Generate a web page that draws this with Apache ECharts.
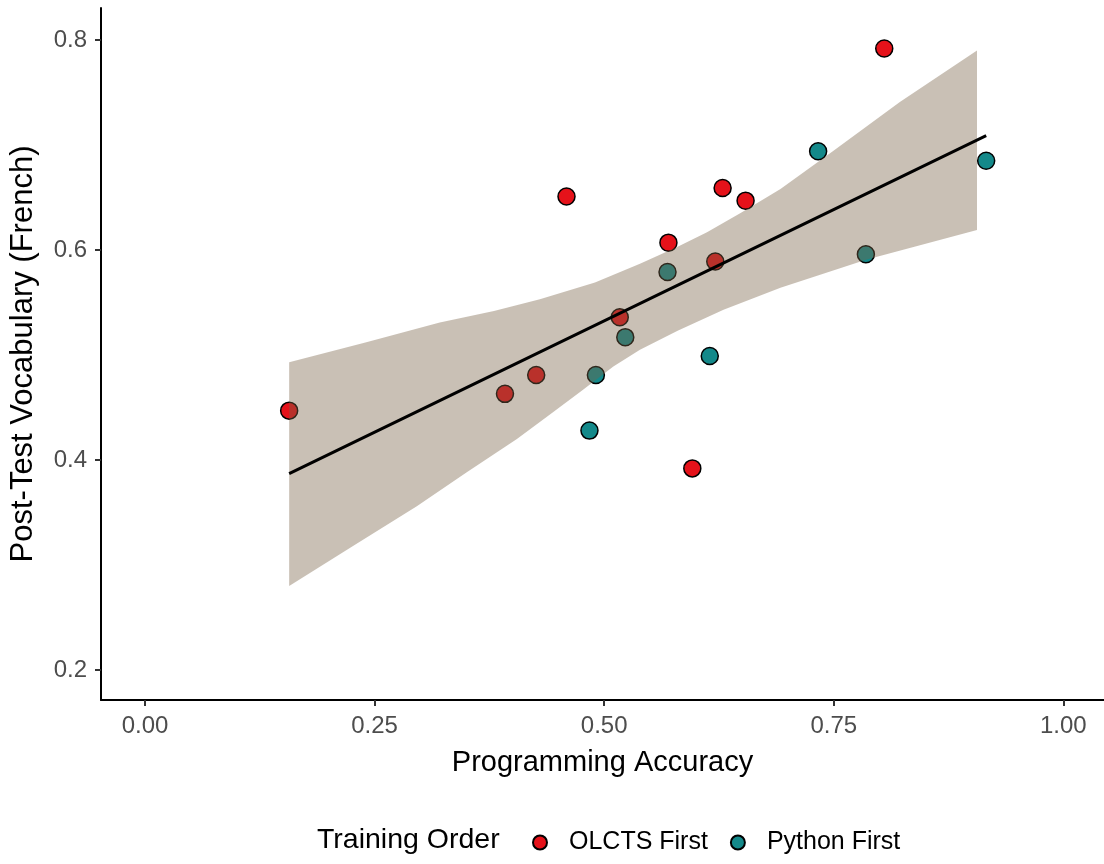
<!DOCTYPE html>
<html>
<head>
<meta charset="utf-8">
<script src="https://cdn.jsdelivr.net/npm/echarts@6/dist/echarts.min.js"></script>
<style>html,body{margin:0;padding:0;background:#fff}#c{width:1104px;height:864px}</style>
</head>
<body>
<div id="c"></div>
<script>
// ---- data ----
const olctsX = [0.157, 0.392, 0.426, 0.459, 0.517, 0.570, 0.629, 0.654, 0.621, 0.596, 0.805];
const olctsY = [0.447, 0.463, 0.481, 0.651, 0.536, 0.607, 0.659, 0.647, 0.589, 0.392, 0.792];
const pythonX = [0.484, 0.491, 0.523, 0.569, 0.615, 0.733, 0.785, 0.916];
const pythonY = [0.428, 0.481, 0.517, 0.579, 0.499, 0.694, 0.596, 0.685];
const fitX = [0.157, 0.916];
const fitY = [0.387, 0.709];
const bandUpperX = [0.157, 0.240, 0.321, 0.380, 0.430, 0.490, 0.539, 0.580, 0.612, 0.650, 0.692, 0.749, 0.822, 0.906];
const bandUpperY = [0.493, 0.512, 0.531, 0.542, 0.553, 0.569, 0.587, 0.603, 0.617, 0.636, 0.658, 0.694, 0.741, 0.790];
const bandLowerX = [0.157, 0.230, 0.296, 0.350, 0.405, 0.445, 0.477, 0.510, 0.539, 0.580, 0.630, 0.692, 0.786, 0.906];
const bandLowerY = [0.280, 0.320, 0.356, 0.388, 0.420, 0.446, 0.467, 0.489, 0.505, 0.523, 0.543, 0.564, 0.591, 0.619];
const xTicks = [0, 0.25, 0.5, 0.75, 1.0];
const xTickLabels = ['0.00', '0.25', '0.50', '0.75', '1.00'];
const yTicks = [0.2, 0.4, 0.6, 0.8];
const yTickLabels = ['0.2', '0.4', '0.6', '0.8'];
const seriesNames = ['OLCTS First', 'Python First'];

const zip = (xs, ys) => xs.map((x, i) => [x, ys[i]]);
const lbl = (ticks, labels) => v => {
  const i = ticks.findIndex(t => Math.abs(t - v) < 1e-9);
  return i >= 0 ? labels[i] : '';
};

const chart = echarts.init(document.getElementById('c'), null, {renderer: 'canvas'});
const FONT = 'Liberation Sans, Arial, sans-serif';
chart.setOption({
  backgroundColor: '#ffffff',
  animation: false,
  grid: {left: 101, right: 0, top: 8, bottom: 164, outerBoundsMode: 'none', containLabel: false},
  xAxis: {
    type: 'value', min: -0.0479, max: 1.0443,
    name: 'Programming Accuracy', nameLocation: 'middle', nameGap: 48,
    nameTextStyle: {fontFamily: FONT, fontSize: 29, color: '#000'},
    axisLine: {show: true, onZero: false, lineStyle: {color: '#000', width: 2}},
    axisTick: {show: true, customValues: xTicks, length: 6, lineStyle: {color: '#333', width: 2}},
    axisLabel: {customValues: xTicks, formatter: lbl(xTicks, xTickLabels), margin: 14,
      fontFamily: FONT, fontSize: 24, color: '#4d4d4d'},
    splitLine: {show: false}
  },
  yAxis: {
    type: 'value', min: 0.1714, max: 0.8305,
    name: 'Post-Test Vocabulary (French)', nameLocation: 'middle', nameGap: 62, nameRotate: 90,
    nameTextStyle: {fontFamily: FONT, fontSize: 31, color: '#000'},
    axisLine: {show: true, onZero: false, lineStyle: {color: '#000', width: 2}},
    axisTick: {show: true, customValues: yTicks, length: 6, lineStyle: {color: '#333', width: 2}},
    axisLabel: {customValues: yTicks, formatter: lbl(yTicks, yTickLabels), margin: 14,
      fontFamily: FONT, fontSize: 24, color: '#4d4d4d'},
    splitLine: {show: false}
  },
  legend: {
    data: seriesNames, icon: 'circle', left: 527, top: 825,
    itemWidth: 14, itemHeight: 14, itemGap: 22,
    textStyle: {fontFamily: FONT, fontSize: 25, color: '#000', padding: [0, 0, 0, 17]}
  },
  graphic: [{
    type: 'text', left: 317, top: 826,
    style: {text: 'Training Order', fontFamily: FONT, fontSize: 28.5, fill: '#000'}
  }],
  series: [
    {
      name: seriesNames[0], type: 'scatter', data: zip(olctsX, olctsY), symbolSize: 17, z: 2,
      itemStyle: {color: '#e5121a', borderColor: '#000', borderWidth: 1.5, opacity: 1}
    },
    {
      name: seriesNames[1], type: 'scatter', data: zip(pythonX, pythonY), symbolSize: 17, z: 2,
      itemStyle: {color: '#14898a', borderColor: '#000', borderWidth: 1.5, opacity: 1}
    },
    {
      name: 'band', type: 'custom', silent: true, z: 3, data: [[bandUpperX[0], bandUpperY[0]]],
      renderItem: (params, api) => {
        const up = bandUpperX.map((x, i) => api.coord([x, bandUpperY[i]]));
        const lo = bandLowerX.map((x, i) => api.coord([x, bandLowerY[i]])).reverse();
        return {type: 'polygon', shape: {points: up.concat(lo)}, style: {fill: 'rgba(120,97,70,0.4)'}};
      }
    },
    {
      name: 'fit', type: 'line', data: zip(fitX, fitY), z: 4, symbol: 'none', silent: true,
      lineStyle: {color: '#000', width: 3}
    }
  ]
});
</script>
</body>
</html>
